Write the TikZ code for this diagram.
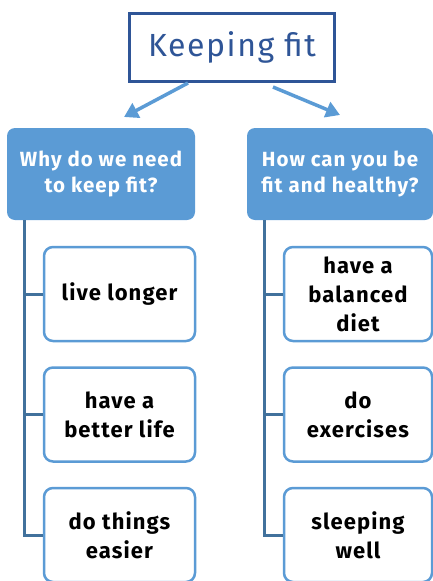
\documentclass[tikz,border=0pt]{standalone}
\usepackage{fontspec}
\setmainfont{Fira Sans}
\newfontfamily\widefont[LetterSpace=5]{Fira Sans}
\usetikzlibrary{arrows.meta,positioning}

\definecolor{titleblue}{HTML}{2F5597}
\definecolor{lightblue}{HTML}{5B9BD5}
\definecolor{lineblue}{HTML}{41719C}

\begin{document}
\begin{tikzpicture}[x=1pt,y=-1pt,node distance=24pt,
                    >={Triangle[length=14pt,width=16pt]}]
  \tikzstyle{title}=[draw=titleblue,line width=3pt,fill=white,text=titleblue,
                     minimum width=205pt,minimum height=68pt,
                     font=\widefont\fontsize{32}{36}\selectfont]
  \tikzstyle{head}=[fill=lightblue,rounded corners=8pt,text=white,align=center,
                    minimum height=92pt,font=\widefont\bfseries\fontsize{20.5}{26}\selectfont]
  \tikzstyle{leaf}=[draw=lightblue,line width=2.5pt,fill=white,rounded corners=9pt,
                    align=center,minimum height=94pt,
                    font=\widefont\bfseries\fontsize{22}{29}\selectfont]
  \tikzstyle{spine}=[draw=lineblue,line width=3pt]
  \tikzstyle{pointer}=[->,draw=lightblue,line width=3.5pt]

  \useasboundingbox (0,0) rectangle (433,581);

  \node[title] (top) at (232,47.5) {Keeping fit};

  \node[head,minimum width=188pt] (why) at (101,174) {Why do we need\\to keep fit?};
  \node[head,minimum width=186pt] (how) at (340,174) {How can you be\\fit and healthy?};

  \node[leaf,minimum width=151pt] (why1) at (119.5,294) {live longer};
  \node[leaf,minimum width=151pt,below=of why1] (why2) {have a\\better life};
  \node[leaf,minimum width=151pt,below=of why2] (why3) {do things\\easier};

  \node[leaf,minimum width=148pt] (how1) at (358,294) {have a\\balanced\\diet};
  \node[leaf,minimum width=148pt,below=of how1] (how2) {do\\exercises};
  \node[leaf,minimum width=148pt,below=of how2] (how3) {sleeping\\well};

  \coordinate (tipA) at (124,117);
  \coordinate (tipB) at (340,115);
  \path[pointer] ([xshift=-44pt]top.south) -- (tipA);
  \path[pointer] ([xshift=41pt,yshift=-4pt]top.south) -- (tipB);

  \coordinate (spA) at (24,220);
  \coordinate (spB) at (264,220);
  \path[spine] (spA) |- (why3.west);
  \path[spine] (spA |- why1.west) -- (why1.west);
  \path[spine] (spA |- why2.west) -- (why2.west);
  \path[spine] (spB) |- (how3.west);
  \path[spine] (spB |- how1.west) -- (how1.west);
  \path[spine] (spB |- how2.west) -- (how2.west);
\end{tikzpicture}
\end{document}
